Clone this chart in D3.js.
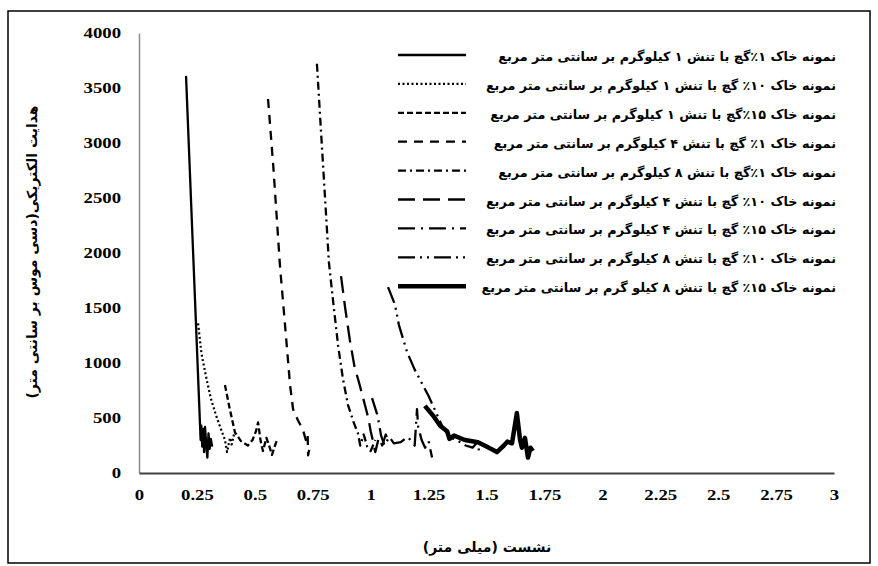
<!DOCTYPE html>
<html>
<head>
<meta charset="utf-8">
<script src="https://d3js.org/d3.v7.min.js"></script>
<style>
  body { margin: 0; background: #fff; }
  .fa { font-family: "DejaVu Sans"; font-weight: bold; }
  .num { font-family: "Liberation Serif"; font-weight: bold; }
</style>
</head>
<body>
<svg id="chart" width="878" height="566"></svg>
<script>
  // legend labels, top to bottom
  var names = [
    "نمونه خاک ۱٪گچ با تنش ۱ کیلوگرم بر سانتی متر مربع",
    "نمونه خاک ۱۰٪ گچ با تنش ۱ کیلوگرم بر سانتی متر مربع",
    "نمونه خاک ۱۵٪گچ با تنش ۱ کیلوگرم بر سانتی متر مربع",
    "نمونه خاک ۱٪ گچ با تنش ۴ کیلوگرم بر سانتی متر مربع",
    "نمونه خاک ۱٪گچ با تنش ۸ کیلوگرم بر سانتی متر مربع",
    "نمونه خاک ۱۰٪ گچ با تنش ۴ کیلوگرم بر سانتی متر مربع",
    "نمونه خاک ۱۵٪ گچ با تنش ۴ کیلوگرم بر سانتی متر مربع",
    "نمونه خاک ۱۰٪ گچ با تنش ۸ کیلوگرم بر سانتی متر مربع",
    "نمونه خاک ۱۵٪ گچ با تنش ۸ کیلو گرم بر سانتی متر مربع"
  ];

  // [settlement mm, conductivity]
  var s1 = [[0.203,3610],[0.263,460],[0.266,300],[0.269,430],[0.273,240],[0.277,400],[0.281,190],[0.285,420],[0.29,260],[0.295,140],[0.30,360],[0.305,220],[0.31,310],[0.316,240]];
  var s2 = [[0.255,1360],[0.27,1080],[0.293,840],[0.31,680],[0.33,540],[0.35,420],[0.371,300],[0.38,190],[0.393,320],[0.40,260],[0.41,350]];
  var s3 = [[0.371,800],[0.39,600],[0.414,370],[0.44,290],[0.47,250],[0.49,300],[0.505,380],[0.514,460],[0.525,290],[0.535,200],[0.55,320],[0.563,240],[0.574,165],[0.587,250],[0.596,300]];
  var s4 = [[0.557,3400],[0.58,2780],[0.609,1870],[0.635,1230],[0.652,800],[0.665,580],[0.686,480],[0.708,390],[0.72,300],[0.728,350],[0.73,160],[0.74,270]];
  var s5 = [[0.768,3720],[0.795,2780],[0.82,1910],[0.84,1520],[0.86,1150],[0.88,860],[0.902,620],[0.925,470],[0.945,360],[0.955,250],[0.97,350],[0.985,240],[1.0,200],[1.02,300]];
  var s6 = [[0.872,1790],[0.89,1500],[0.91,1210],[0.93,970],[0.95,820],[0.975,620],[0.99,500],[1.0,380],[1.01,290],[1.02,190],[1.035,320],[1.05,250],[1.065,350],[1.08,270]];
  var s7 = [[1.006,680],[1.03,520],[1.045,340],[1.06,250],[1.08,330],[1.1,270],[1.13,280],[1.16,330],[1.19,250],[1.2,580],[1.205,420],[1.22,300],[1.235,230],[1.25,290],[1.265,140]];
  var s8 = [[1.075,1690],[1.105,1530],[1.122,1345],[1.157,1100],[1.19,940],[1.21,860],[1.25,700],[1.28,560],[1.31,420],[1.34,330],[1.37,300],[1.41,250],[1.44,230],[1.46,280],[1.47,180]];
  var s9 = [[1.234,610],[1.27,520],[1.30,430],[1.33,380],[1.34,310],[1.36,340],[1.407,300],[1.463,280],[1.50,240],[1.545,190],[1.575,250],[1.59,285],[1.61,270],[1.631,545],[1.645,300],[1.653,230],[1.666,320],[1.679,140],[1.69,230],[1.70,200]];
  var series = [s1, s2, s3, s4, s5, s6, s7, s8, s9];

  var xTicks = [0, 0.25, 0.5, 0.75, 1, 1.25, 1.5, 1.75, 2, 2.25, 2.5, 2.75, 3];
  var yTicks = [0, 500, 1000, 1500, 2000, 2500, 3000, 3500, 4000];

  var dashes = ["none", "2,2.5", "6,3", "9,7", "8,4,2,4", "17,8", "17,6,2,6", "17,5,2,5,2,5", "none"];
  var widths = [2.3, 2.2, 2.3, 2.3, 2.3, 2.3, 2.3, 2.3, 4.5];

  var svg = d3.select("#chart");
  svg.append("rect").attr("x", 8).attr("y", 11).attr("width", 862).attr("height", 552)
    .attr("fill", "#fff").attr("stroke", "#000").attr("stroke-width", 1.5);

  var x = d3.scaleLinear().domain([0, 3]).range([139, 834]);
  var y = d3.scaleLinear().domain([0, 4000]).range([473, 33]);
  var stretch = 1.25;

  var gy = svg.append("g").attr("transform", "translate(139,0)")
    .call(d3.axisLeft(y).tickValues(yTicks).tickSize(0).tickPadding(14).tickFormat(d3.format("d")));
  gy.select(".domain").attr("stroke", "#8c8c8c").attr("stroke-width", 1.5);
  gy.selectAll("text").attr("class", "num").attr("font-size", 15).attr("fill", "#000")
    .attr("x", -18 / stretch).attr("transform", "scale(" + stretch + ",1)");

  var gx = svg.append("g").attr("transform", "translate(0,473)")
    .call(d3.axisBottom(x).tickValues(xTicks).tickSize(0).tickPadding(16).tickFormat(function(d) { return String(d); }));
  gx.select(".domain").attr("stroke", "#404040").attr("stroke-width", 1.8);
  gx.selectAll("text").attr("class", "num").attr("font-size", 15).attr("fill", "#000")
    .attr("transform", "scale(" + stretch + ",1)")
    .attr("x", 0);

  var line = d3.line().x(function(d) { return x(d[0]); }).y(function(d) { return y(d[1]); });

  series.forEach(function(s, i) {
    svg.append("path").datum(s)
      .attr("fill", "none").attr("stroke", "#000")
      .attr("stroke-width", widths[i])
      .attr("stroke-dasharray", dashes[i])
      .attr("stroke-linejoin", "round")
      .attr("d", line);
  });

  // legend
  var lg = svg.append("g");
  names.forEach(function(n, i) {
    var ly = 55 + i * 28.9;
    lg.append("line").attr("x1", 398).attr("x2", 466).attr("y1", ly).attr("y2", ly)
      .attr("stroke", "#000").attr("stroke-width", widths[i]).attr("stroke-dasharray", dashes[i]);
    lg.append("text").attr("class", "fa").attr("x", 836).attr("y", ly + 6)
      .attr("direction", "rtl").attr("text-anchor", "start")
      .attr("font-size", 12.8).text(n);
  });

  svg.append("text").attr("class", "fa").attr("font-size", 14)
    .attr("direction", "rtl").attr("text-anchor", "middle")
    .attr("transform", "translate(37,252) rotate(-90)")
    .text("هدایت الکتریکی(دسی موس بر سانتی متر)");

  svg.append("text").attr("class", "fa").attr("font-size", 14)
    .attr("direction", "rtl").attr("text-anchor", "middle")
    .attr("x", 487).attr("y", 552)
    .text("نشست (میلی متر)");
</script>
</body>
</html>
